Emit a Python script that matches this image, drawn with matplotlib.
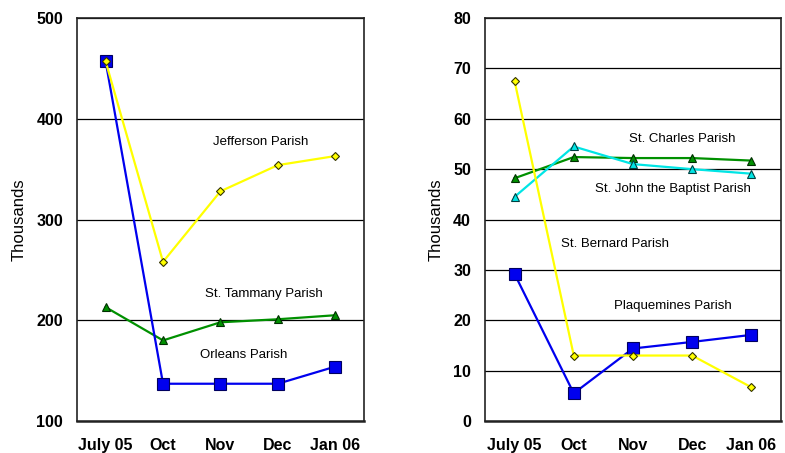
import matplotlib
matplotlib.use("Agg")
import matplotlib.pyplot as plt

plt.rcParams['font.family'] = ['Liberation Sans', 'DejaVu Sans']

months = ["July 05", "Oct", "Nov", "Dec", "Jan 06"]

# left panel (thousands)
orleans = [457, 137, 137, 137, 154]
jefferson = [457, 258, 328, 354, 363]
st_tammany = [213, 180, 198, 201, 205]

# right panel (thousands)
st_bernard = [67.5, 13, 13, 13, 6.7]
plaquemines = [29.2, 5.5, 14.4, 15.7, 17.1]
st_charles = [48.2, 52.4, 52.2, 52.2, 51.7]
st_john = [44.5, 54.5, 51.0, 50.0, 49.1]

left_ticks = [100, 200, 300, 400, 500]
right_ticks = [0, 10, 20, 30, 40, 50, 60, 70, 80]

BLUE = "#0000ee"
YELLOW = "#ffff00"
GREEN = "#009000"
CYAN = "#00e5e5"

fig = plt.figure(figsize=(7.85, 4.53), dpi=100)
ax1 = fig.add_axes([0.098, 0.0706, 0.3656, 0.8896])
ax2 = fig.add_axes([0.6178, 0.0706, 0.377, 0.8896])

x = range(len(months))


def style(ax, ticks):
    ax.set_xlim(-0.5, len(months) - 0.5)
    ax.set_ylim(ticks[0], ticks[-1])
    ax.set_yticks(ticks)
    ax.set_xticks(list(x))
    ax.set_xticklabels(months)
    ax.yaxis.grid(True, color="black", linewidth=0.9)
    ax.set_axisbelow(True)
    ax.tick_params(length=0, labelsize=11.5)
    ax.tick_params(axis="x", pad=12)
    ax.tick_params(axis="y", pad=10)
    for lab in ax.get_xticklabels() + ax.get_yticklabels():
        lab.set_fontweight("bold")
    for sp in ax.spines.values():
        sp.set_color("#222222")
        sp.set_linewidth(1.2)
    ax.spines["bottom"].set_linewidth(1.8)
    ax.set_ylabel("Thousands", fontsize=12)


# left chart
ax1.plot(x, st_tammany, color=GREEN, lw=1.6, marker="^", ms=6,
         mfc=GREEN, mec="#003000", mew=0.8)
ax1.plot(x, orleans, color=BLUE, lw=1.6, marker="s", ms=8,
         mfc=BLUE, mec="#000060", mew=0.8)
ax1.plot(x, jefferson, color=YELLOW, lw=1.6, marker="D", ms=4.5,
         mfc=YELLOW, mec="#333300", mew=0.8)
style(ax1, left_ticks)
ax1.yaxis.set_label_coords(-0.175, 0.5)
ax1.text(2.7, 377, "Jefferson Parish", ha="center", va="center", fontsize=9.5)
ax1.text(2.76, 226, "St. Tammany Parish", ha="center", va="center", fontsize=9.5)
ax1.text(2.41, 166, "Orleans Parish", ha="center", va="center", fontsize=9.5)

# right chart
ax2.plot(x, st_charles, color=GREEN, lw=1.6, marker="^", ms=6,
         mfc=GREEN, mec="#003000", mew=0.8)
ax2.plot(x, st_john, color=CYAN, lw=1.6, marker="^", ms=6,
         mfc=CYAN, mec="#004040", mew=0.8)
ax2.plot(x, plaquemines, color=BLUE, lw=1.6, marker="s", ms=8,
         mfc=BLUE, mec="#000060", mew=0.8)
ax2.plot(x, st_bernard, color=YELLOW, lw=1.6, marker="D", ms=4.5,
         mfc=YELLOW, mec="#333300", mew=0.8)
style(ax2, right_ticks)
ax2.yaxis.set_label_coords(-0.14, 0.5)
ax2.text(2.84, 55.9, "St. Charles Parish", ha="center", va="center", fontsize=9.5)
ax2.text(2.68, 46, "St. John the Baptist Parish", ha="center", va="center", fontsize=9.5)
ax2.text(1.69, 35.2, "St. Bernard Parish", ha="center", va="center", fontsize=9.5)
ax2.text(2.68, 22.8, "Plaquemines Parish", ha="center", va="center", fontsize=9.5)

fig.savefig("out.png", dpi=100)
